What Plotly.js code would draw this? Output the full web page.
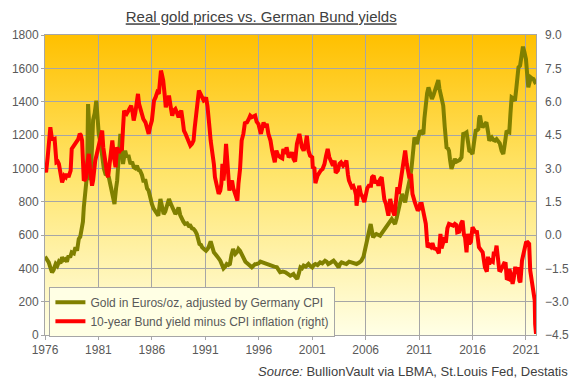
<!DOCTYPE html>
<html>
<head>
<meta charset="utf-8">
<script src="https://cdn.plot.ly/plotly-3.0.1.min.js"></script>
<style>
html,body{margin:0;padding:0;background:#fff;}
#chart{width:576px;height:379px;}
</style>
</head>
<body>
<div id="chart"></div>
<script>
// Gold price in Euros/oz adjusted by German CPI (decimal year, value)
const goldYears = [1976.0,1976.2,1976.35,1976.55,1976.66,1976.8,1977.0,1977.15,1977.3,1977.45,1977.6,1977.75,1977.9,1978.05,1978.2,1978.35,1978.5,1978.7,1978.85,1979.0,1979.16,1979.3,1979.47,1979.55,1979.63,1979.75,1979.85,1979.94,1980.03,1980.1,1980.22,1980.35,1980.5,1980.65,1980.8,1980.9,1981.03,1981.2,1981.35,1981.5,1981.66,1981.85,1981.97,1982.15,1982.3,1982.5,1982.65,1982.75,1982.9,1983.05,1983.15,1983.3,1983.5,1983.65,1983.8,1984.0,1984.15,1984.3,1984.45,1984.6,1984.75,1984.9,1985.07,1985.2,1985.4,1985.55,1985.7,1985.85,1986.0,1986.15,1986.3,1986.45,1986.6,1986.8,1986.95,1987.1,1987.25,1987.4,1987.6,1987.75,1987.9,1988.05,1988.2,1988.35,1988.5,1988.65,1988.8,1988.95,1989.1,1989.3,1989.45,1989.6,1989.75,1989.9,1990.05,1990.2,1990.35,1990.45,1990.6,1990.7,1990.9,1991.07,1991.2,1991.3,1991.5,1991.65,1991.8,1991.95,1992.1,1992.25,1992.4,1992.55,1992.7,1992.85,1993.0,1993.15,1993.3,1993.45,1993.6,1993.7,1993.8,1994.0,1994.1,1994.25,1994.4,1994.56,1994.75,1995.0,1995.2,1995.35,1995.5,1995.65,1995.8,1996.0,1996.15,1996.3,1996.5,1996.75,1996.95,1997.2,1997.45,1997.7,1997.85,1998.0,1998.25,1998.5,1998.75,1998.95,1999.1,1999.25,1999.4,1999.6,1999.75,1999.9,2000.05,2000.2,2000.4,2000.65,2000.8,2001.0,2001.15,2001.3,2001.5,2001.75,2001.95,2002.2,2002.35,2002.5,2002.75,2003.0,2003.2,2003.47,2003.6,2003.75,2004.0,2004.2,2004.45,2004.7,2004.95,2005.15,2005.4,2005.6,2005.8,2005.94,2006.1,2006.25,2006.4,2006.47,2006.6,2006.7,2006.85,2007.0,2007.2,2007.35,2007.5,2007.66,2007.8,2007.97,2008.2,2008.44,2008.6,2008.75,2008.9,2009.07,2009.25,2009.4,2009.55,2009.7,2009.85,2010.0,2010.15,2010.3,2010.45,2010.57,2010.7,2010.8,2010.95,2011.1,2011.25,2011.4,2011.5,2011.63,2011.75,2011.88,2012.05,2012.2,2012.35,2012.5,2012.65,2012.8,2012.9,2013.0,2013.15,2013.26,2013.4,2013.57,2013.7,2013.8,2013.9,2014.03,2014.2,2014.34,2014.5,2014.66,2014.8,2014.97,2015.05,2015.13,2015.3,2015.44,2015.6,2015.7,2015.85,2016.0,2016.15,2016.3,2016.45,2016.54,2016.62,2016.7,2016.82,2016.94,2017.1,2017.3,2017.45,2017.57,2017.7,2017.8,2017.95,2018.1,2018.25,2018.4,2018.55,2018.72,2018.88,2019.05,2019.19,2019.3,2019.44,2019.55,2019.66,2019.8,2019.97,2020.1,2020.3,2020.45,2020.6,2020.72,2020.85,2021.0,2021.12,2021.22,2021.35,2021.44,2021.55,2021.7,2021.82,2021.94];
const goldValues = [470,445,436,395,376,390,426,415,440,430,466,450,455,440,476,465,496,490,526,506,576,590,646,680,766,830,880,966,1386,1300,930,1050,1290,1330,1406,1330,1206,1150,1046,1000,966,960,946,880,846,786,880,926,1066,1206,1150,1026,1106,1066,1080,1026,1040,1006,1000,1016,990,986,960,926,926,880,866,820,786,760,746,730,716,816,760,726,740,766,816,790,766,745,726,740,766,720,696,680,666,670,655,656,640,636,625,606,570,546,540,526,515,506,515,526,562,520,496,485,476,460,446,425,400,410,426,420,426,480,516,500,486,500,516,505,486,456,440,426,415,406,415,425,426,430,440,436,430,426,420,416,410,406,390,376,380,376,365,356,360,366,350,336,370,406,400,416,410,426,415,406,420,426,420,436,430,446,440,426,435,446,430,406,425,436,430,426,440,436,430,426,435,446,470,506,570,606,640,666,620,586,600,606,600,596,610,626,640,656,680,696,680,666,700,746,800,846,820,796,850,886,940,1006,1100,1186,1160,1146,1190,1226,1215,1206,1300,1406,1450,1486,1440,1416,1440,1466,1500,1530,1480,1446,1400,1376,1250,1126,1120,1106,1050,996,1030,1056,1040,1046,1050,1066,1150,1206,1210,1216,1150,1106,1100,1086,1160,1226,1230,1236,1300,1316,1270,1246,1260,1276,1220,1166,1180,1186,1170,1166,1175,1166,1150,1106,1086,1160,1226,1220,1216,1330,1426,1420,1406,1480,1606,1616,1690,1730,1700,1656,1560,1486,1520,1546,1540,1536,1520,1506];

// 10-year Bund yield minus CPI inflation, % (decimal year, value)
const bundYears = [1976.0,1976.1,1976.25,1976.35,1976.5,1976.6,1976.66,1976.8,1976.9,1977.07,1977.2,1977.3,1977.45,1977.6,1977.7,1977.8,1977.95,1978.06,1978.2,1978.3,1978.4,1978.5,1978.6,1978.75,1978.9,1979.0,1979.1,1979.25,1979.35,1979.47,1979.55,1979.63,1979.75,1979.85,1979.95,1980.1,1980.2,1980.3,1980.4,1980.5,1980.6,1980.7,1980.85,1981.0,1981.13,1981.25,1981.35,1981.45,1981.55,1981.66,1981.8,1981.9,1982.07,1982.2,1982.3,1982.45,1982.6,1982.75,1982.9,1983.0,1983.2,1983.3,1983.4,1983.5,1983.63,1983.75,1983.85,1984.0,1984.06,1984.2,1984.3,1984.45,1984.6,1984.7,1984.8,1984.95,1985.07,1985.2,1985.4,1985.55,1985.7,1985.85,1986.0,1986.1,1986.2,1986.35,1986.5,1986.65,1986.75,1986.85,1986.95,1987.06,1987.2,1987.3,1987.45,1987.6,1987.75,1987.9,1988.05,1988.2,1988.35,1988.5,1988.6,1988.75,1988.9,1989.0,1989.15,1989.3,1989.45,1989.6,1989.75,1989.9,1990.0,1990.13,1990.25,1990.4,1990.55,1990.7,1990.85,1991.0,1991.07,1991.2,1991.3,1991.4,1991.5,1991.6,1991.7,1991.8,1991.9,1992.05,1992.25,1992.4,1992.5,1992.6,1992.7,1992.8,1992.94,1993.1,1993.25,1993.38,1993.5,1993.62,1993.75,1993.9,1994.0,1994.1,1994.25,1994.4,1994.56,1994.7,1994.9,1995.05,1995.2,1995.35,1995.5,1995.66,1995.8,1995.97,1996.2,1996.3,1996.45,1996.6,1996.75,1996.9,1997.1,1997.25,1997.5,1997.65,1997.8,1998.0,1998.2,1998.3,1998.5,1998.6,1998.8,1999.0,1999.1,1999.25,1999.4,1999.57,1999.8,2000.04,2000.2,2000.35,2000.5,2000.65,2000.8,2001.0,2001.06,2001.2,2001.3,2001.5,2001.65,2001.8,2001.97,2002.15,2002.3,2002.45,2002.6,2002.75,2002.94,2003.1,2003.2,2003.4,2003.55,2003.7,2003.9,2004.05,2004.2,2004.35,2004.44,2004.7,2004.85,2005.0,2005.1,2005.15,2005.3,2005.4,2005.55,2005.7,2005.88,2006.0,2006.15,2006.3,2006.5,2006.6,2006.75,2006.9,2007.05,2007.2,2007.35,2007.5,2007.6,2007.75,2007.9,2008.13,2008.3,2008.4,2008.53,2008.7,2008.85,2008.97,2009.1,2009.3,2009.5,2009.6,2009.7,2009.85,2010.0,2010.1,2010.25,2010.38,2010.6,2010.75,2010.88,2011.0,2011.1,2011.25,2011.4,2011.55,2011.63,2011.75,2011.8,2011.95,2012.1,2012.25,2012.4,2012.56,2012.7,2012.85,2013.0,2013.1,2013.25,2013.4,2013.5,2013.65,2013.8,2014.0,2014.2,2014.35,2014.5,2014.57,2014.75,2014.94,2015.07,2015.2,2015.3,2015.44,2015.55,2015.7,2015.85,2016.0,2016.15,2016.3,2016.4,2016.6,2016.8,2016.95,2017.16,2017.34,2017.45,2017.57,2017.75,2017.9,2018.0,2018.1,2018.25,2018.4,2018.5,2018.63,2018.8,2018.95,2019.1,2019.2,2019.35,2019.45,2019.6,2019.75,2019.85,2020.0,2020.1,2020.25,2020.38,2020.48,2020.63,2020.75,2020.9,2021.0,2021.16,2021.3,2021.4,2021.6,2021.7,2021.75,2021.82,2021.86,2021.94];
const bundValues = [3.05,2.82,3.5,4.1,4.85,4.5,4.32,4.3,4.32,3.27,3.3,3.2,2.8,2.37,2.5,2.67,2.6,2.75,2.6,2.8,2.9,3.87,3.95,4.1,4.15,4.25,4.3,4.55,4.5,4.25,3.5,2.45,2.5,2.6,3.2,3.65,3.05,2.5,2.22,2.45,3.0,3.35,3.65,4.0,4.4,4.5,4.7,3.95,3.5,3.05,2.8,2.6,3.5,3.9,4.25,3.5,3.05,3.95,3.7,3.8,3.87,4.8,5.6,5.5,5.45,5.55,5.67,5.75,5.82,5.5,5.15,5.5,5.9,6.35,5.9,5.6,5.37,5.22,5.07,4.8,4.55,4.9,5.15,5.6,6.05,6.2,6.42,6.35,6.9,7.4,7.2,6.95,6.3,5.75,6.0,6.27,5.8,5.37,5.6,5.67,5.5,5.3,5.45,5.6,5.1,4.7,4.55,4.4,4.2,4.02,4.1,4.25,4.8,5.45,6.0,6.5,6.35,6.2,6.05,6.1,6.2,5.8,5.45,4.8,4.25,3.9,3.8,3.2,2.6,2.2,1.85,2.0,2.3,3.2,2.45,3.0,4.1,3.05,2.0,2.3,2.45,2.1,1.85,1.6,1.55,2.3,2.97,4.25,4.55,5.03,5.07,5.2,5.37,5.3,5.33,5.37,5.1,4.99,4.55,4.8,5.07,4.85,5.0,4.55,4.25,3.8,3.27,3.8,3.6,3.5,3.45,3.87,3.65,3.95,3.5,3.6,3.72,3.43,3.3,4.1,4.55,3.95,3.8,4.0,4.47,3.8,3.57,3.5,3.0,3.05,2.33,2.67,2.8,2.9,2.97,3.2,3.57,3.87,3.5,3.3,3.12,3.35,2.8,2.9,3.2,3.27,3.12,3.2,3.35,2.7,2.45,2.15,2.2,2.0,1.8,1.32,1.9,2.22,1.85,1.73,1.48,1.85,2.1,2.22,2.22,2.6,2.67,2.33,2.45,2.22,2.5,2.6,2.0,1.6,1.4,0.87,1.62,1.3,1.1,0.87,1.5,2.15,1.85,2.6,3.35,3.7,3.8,3.2,2.9,2.55,2.75,1.85,1.48,1.2,1.1,1.17,1.4,1.4,1.1,0.8,0.5,-0.3,-0.55,-0.45,-0.53,-0.37,-0.6,-0.62,-0.68,-0.83,0.05,-0.6,-0.3,-0.1,-0.35,0.3,0.5,0.45,0.42,0.5,0.45,0.12,0.15,0.53,0.64,0.0,-0.1,-0.78,0.05,-0.4,-0.3,0.35,0.22,0.1,0.2,-0.55,-0.68,-0.78,-1.45,-1.65,-0.98,-1.3,-1.15,-1.2,-0.75,-0.93,-0.48,-1.3,-1.58,-1.6,-1.45,-1.28,-1.3,-1.95,-1.98,-1.53,-1.8,-2.2,-1.98,-1.43,-1.75,-1.45,-2.05,-2.13,-1.15,-0.85,-0.45,-0.35,-0.33,-0.4,-1.6,-2.2,-2.6,-2.8,-2.95,-4.0,-4.45];

const xTickVals = [1976,1981,1986,1991,1996,2001,2006,2011,2016,2021];
const xTickText = ['1976','1981','1986','1991','1996','2001','2006','2011','2016','2021'];

const FONT = '"Liberation Sans", Arial, sans-serif';
const TXT = '#595959';
const GRID = '#A6A6A6';

const gradSvg = '<svg xmlns="http://www.w3.org/2000/svg" width="100" height="100" preserveAspectRatio="none">' +
  '<defs><linearGradient id="g" x1="0" y1="0" x2="0" y2="1">' +
  '<stop offset="0" stop-color="#FFC000"/>' +
  '<stop offset="0.45" stop-color="#FFE468"/>' +
  '<stop offset="1" stop-color="#FFFFE6"/>' +
  '</linearGradient></defs><rect width="100" height="100" fill="url(#g)"/></svg>';

const traces = [
  {x: goldYears, y: goldValues, type: 'scatter', mode: 'lines',
   name: 'Gold in Euros/oz, adjusted by Germany CPI',
   line: {color: '#808000', width: 4}, yaxis: 'y'},
  {x: bundYears, y: bundValues, type: 'scatter', mode: 'lines',
   name: '10-year Bund yield minus CPI inflation (right)',
   line: {color: '#FF0000', width: 4}, yaxis: 'y2'}
];

const layout = {
  width: 576, height: 379,
  margin: {l: 45, r: 40, t: 35, b: 44, pad: 0},
  paper_bgcolor: '#FFFFFF',
  plot_bgcolor: 'rgba(0,0,0,0)',
  font: {family: FONT, size: 12, color: TXT},
  showlegend: true,
  title: {text: '<u>Real gold prices vs. German Bund yields</u>',
          font: {family: FONT, size: 15, color: '#404040'},
          x: 0.4535, xanchor: 'center', y: 0.955, yanchor: 'middle'},
  xaxis: {range: [1976, 2021.94], tickvals: xTickVals, ticktext: xTickText,
          showgrid: true, gridcolor: GRID, gridwidth: 1,
          showline: true, linecolor: GRID, linewidth: 1, mirror: true,
          ticks: 'outside', ticklen: 4, tickcolor: GRID,
          tickfont: {family: FONT, size: 12, color: TXT}, zeroline: false, fixedrange: true},
  yaxis: {range: [0, 1800], dtick: 200, tick0: 0,
          showgrid: true, gridcolor: GRID, gridwidth: 1,
          showline: true, linecolor: GRID, linewidth: 1, mirror: true,
          ticks: 'outside', ticklen: 3, tickcolor: GRID,
          tickfont: {family: FONT, size: 12, color: TXT}, zeroline: false},
  yaxis2: {range: [-4.5, 9], dtick: 1.5, tick0: -4.5, tickformat: '.1f',
           overlaying: 'y', side: 'right', showgrid: false, zeroline: false,
           showline: false, ticks: '', ticklabelstandoff: 8,
           tickfont: {family: FONT, size: 12, color: TXT}},
  legend: {x: 0.009, y: 0.161, xanchor: 'left', yanchor: 'top',
           bgcolor: '#FFFFE4', bordercolor: GRID, borderwidth: 1,
           font: {family: FONT, size: 12, color: TXT},
           itemwidth: 30, tracegroupgap: 0},
  images: [{source: 'data:image/svg+xml;base64,' + btoa(gradSvg),
            xref: 'paper', yref: 'paper', x: 0, y: 1, sizex: 1, sizey: 1,
            xanchor: 'left', yanchor: 'top', sizing: 'stretch', layer: 'below'}],
  annotations: [{xref: 'paper', yref: 'paper', x: 1.069, y: -0.12,
                 xanchor: 'right', yanchor: 'middle', showarrow: false,
                 text: '<i>Source:</i> BullionVault via LBMA, St.Louis Fed, Destatis',
                 font: {family: FONT, size: 13, color: '#404040'}}]
};

Plotly.newPlot('chart', traces, layout, {displayModeBar: false, staticPlot: true});
</script>
</body>
</html>
